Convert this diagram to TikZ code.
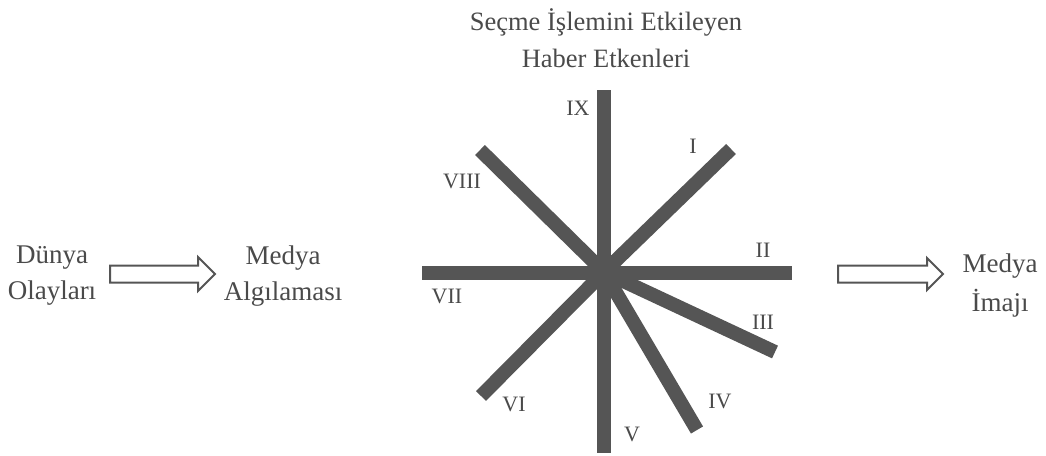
\documentclass[tikz,border=0pt]{standalone}
\usepackage{fontspec}
\setmainfont{Liberation Serif}
\usetikzlibrary{calc}
\definecolor{bar}{HTML}{555555}
\definecolor{txt}{HTML}{4A4A4A}
\begin{document}
\begin{tikzpicture}[x=1pt,y=-1pt,
  lbl/.style={text=txt,font=\fontsize{27}{36}\selectfont,align=center,inner sep=0pt},
  ttl/.style={text=txt,font=\fontsize{26.5}{37}\selectfont,align=center,inner sep=0pt},
  num/.style={text=txt,font=\fontsize{22}{26}\selectfont,inner sep=0pt},
  spoke/.style={draw=bar,line width=14pt,line cap=butt},
  blockarrow/.style={draw=bar,line width=2pt,fill=white,line join=miter}]
\useasboundingbox (0,0) rectangle (1046,455);
% text nodes
\node[ttl] (title) at (606,38) {Seçme İşlemini Etkileyen\\Haber Etkenleri};
\node[lbl] (dunya) at (52,276) {Dünya\\Olayları};
\node[lbl] (algi) at (283,276) {Medya\\Algılaması};
\node[lbl,font=\fontsize{27}{39}\selectfont] (imaj) at (1000,286) {Medya\\İmajı};
% star
\coordinate (c) at (604,272);
\coordinate (eIX) at (604,90);
\coordinate (eV) at (604,453);
\coordinate (eVII) at (422,273);
\coordinate (eII) at (792,273);
\coordinate (eI) at (731,149);
\coordinate (eVIII) at (480,150);
\coordinate (eVI) at (481,396);
\coordinate (eIII) at (775,352);
\coordinate (eIV) at (697,430);
\draw[spoke] (eIX) -- (eV);
\draw[spoke] (eVII) -- (eII);
\draw[spoke] (c) -- (eI);
\draw[spoke] (c) -- (eVIII);
\draw[spoke] (c) -- (eVI);
\draw[spoke] (c) -- (eIII);
\draw[spoke] (c) -- (eIV);
% numerals
\node[num] (nIX) at (578,108) {IX};
\node[num] (nI) at (693,146) {I};
\node[num] (nVIII) at (462,181) {VIII};
\node[num] (nII) at (763,250) {II};
\node[num] (nVII) at (447,296) {VII};
\node[num] (nIII) at (763,322) {III};
\node[num] (nVI) at (514,404) {VI};
\node[num] (nIV) at (720,401) {IV};
\node[num] (nV) at (632,434) {V};
% block arrows
\coordinate (a1t) at (110,274);
\coordinate (a1h) at (215,274);
\draw[blockarrow] ($(a1t)+(0,-8.5)$) -- ($(a1h)+(-17,-8.5)$) -- ($(a1h)+(-17,-17)$) -- (a1h)
  -- ($(a1h)+(-17,17)$) -- ($(a1h)+(-17,8.5)$) -- ($(a1t)+(0,8.5)$) -- cycle;
\coordinate (a2t) at (838,274);
\coordinate (a2h) at (943,274);
\draw[blockarrow] ($(a2t)+(0,-8.5)$) -- ($(a2h)+(-16,-8.5)$) -- ($(a2h)+(-16,-16)$) -- (a2h)
  -- ($(a2h)+(-16,16)$) -- ($(a2h)+(-16,8.5)$) -- ($(a2t)+(0,8.5)$) -- cycle;
\end{tikzpicture}
\end{document}
